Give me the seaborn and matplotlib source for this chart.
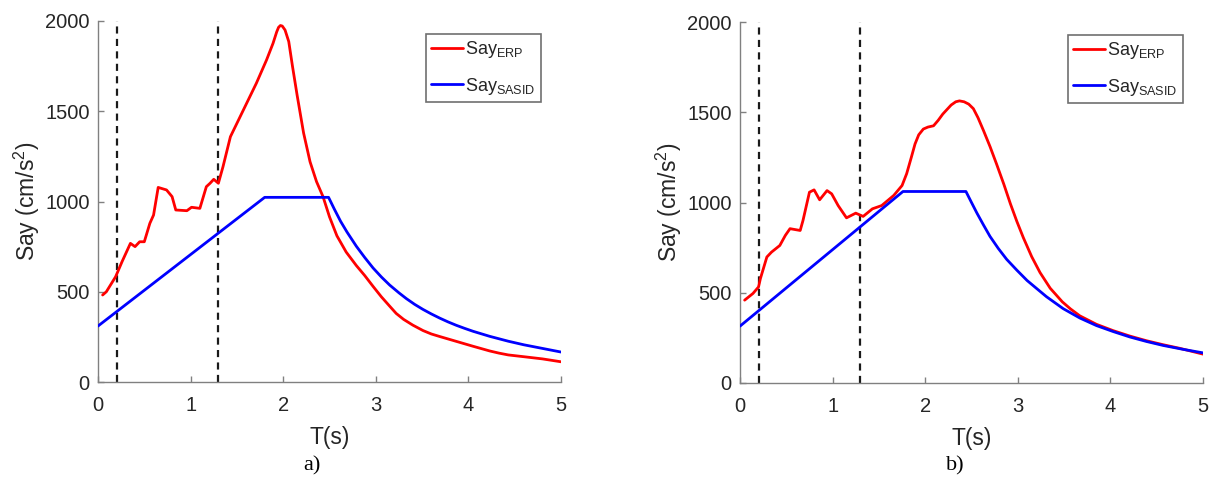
import matplotlib
matplotlib.use("Agg")
import matplotlib.pyplot as plt
import pandas as pd
import seaborn as sns

# ---- panel a) ----
t_erp_a = [0.05, 0.09, 0.19, 0.26, 0.35, 0.40, 0.45, 0.50, 0.56, 0.60, 0.65, 0.74,
           0.80, 0.84, 0.96, 1.01, 1.10, 1.17, 1.21, 1.25, 1.30, 1.35, 1.43, 1.50,
           1.57, 1.64, 1.71, 1.82, 1.89, 1.93, 1.95, 1.97, 1.99, 2.02, 2.06, 2.10,
           2.15, 2.22, 2.29, 2.36, 2.43, 2.50, 2.58, 2.68, 2.79, 2.88, 2.97, 3.06,
           3.15, 3.22, 3.30, 3.40, 3.51, 3.60, 3.69, 3.87, 4.05, 4.23, 4.33, 4.43,
           4.60, 4.80, 5.00]
say_erp_a = [482, 500, 583, 667, 768, 750, 777, 777, 879, 925, 1078, 1064,
             1027, 953, 949, 968, 962, 1082, 1101, 1123, 1101, 1193, 1359, 1433,
             1507, 1581, 1655, 1784, 1876, 1940, 1965, 1975, 1972, 1950, 1886, 1750,
             1590, 1380, 1220, 1110, 1027, 915, 810, 720, 645, 590, 530, 472,
             420, 380, 347, 315, 285, 266, 252, 225, 198, 172, 160, 150,
             140, 128, 112]
t_sasid_a = [0.0, 1.80, 2.49, 2.55, 2.62, 2.69, 2.79, 2.88, 2.97, 3.06, 3.15,
             3.25, 3.33, 3.42, 3.51, 3.60, 3.69, 3.78, 3.87, 3.96, 4.05, 4.23,
             4.43, 4.60, 4.80, 5.00]
say_sasid_a = [310, 1023, 1023, 960, 890, 830, 752, 690, 632, 582, 537,
               494, 462, 430, 402, 377, 354, 333, 314, 297, 281, 253,
               226, 206, 186, 166]

# ---- panel b) ----
t_erp_b = [0.05, 0.14, 0.20, 0.22, 0.29, 0.34, 0.43, 0.49, 0.54, 0.65, 0.68, 0.75,
           0.80, 0.86, 0.94, 0.99, 1.06, 1.15, 1.25, 1.33, 1.43, 1.53, 1.66, 1.75,
           1.80, 1.85, 1.89, 1.93, 1.98, 2.03, 2.09, 2.14, 2.19, 2.28, 2.33, 2.37,
           2.42, 2.47, 2.52, 2.57, 2.63, 2.70, 2.77, 2.85, 2.92, 2.99, 3.06, 3.15,
           3.24, 3.35, 3.48, 3.57, 3.67, 3.85, 4.03, 4.21, 4.39, 4.57, 4.75, 5.00]
say_erp_b = [459, 496, 532, 578, 698, 725, 762, 818, 855, 845, 900, 1057,
             1070, 1015, 1066, 1048, 983, 915, 941, 923, 965, 983, 1039, 1094,
             1160, 1250, 1324, 1375, 1407, 1418, 1425, 1455, 1490, 1540, 1558, 1563,
             1558, 1545, 1520, 1470, 1398, 1310, 1214, 1100, 993, 895, 805, 700,
             612, 525, 450, 410, 372, 325, 290, 260, 234, 212, 192, 160]
t_sasid_b = [0.0, 1.76, 2.44, 2.50, 2.56, 2.63, 2.70, 2.79, 2.88, 2.99, 3.10,
             3.20, 3.31, 3.40, 3.49, 3.67, 3.85, 4.03, 4.21, 4.39, 4.57, 4.78, 5.00]
say_sasid_b = [315, 1061, 1061, 1000, 940, 875, 812, 745, 685, 625, 568,
               525, 478, 445, 412, 360, 318, 285, 255, 230, 208, 187, 167]

period_marks = [0.2, 1.3]
x_ticks = [0, 1, 2, 3, 4, 5]
y_ticks = [0, 500, 1000, 1500, 2000]
series_names = [r"Say$_{\mathrm{ERP}}$", r"Say$_{\mathrm{SASID}}$"]
series_colors = ["#ff0000", "#0000ff"]
panel_tags = ["a)", "b)"]
x_label = "T(s)"
y_label = r"Say (cm/s$^{2}$)"

sns.set_theme(style="white")
plt.rcParams["font.family"] = ["Liberation Sans", "DejaVu Sans"]
plt.rcParams.update({
    "mathtext.fontset": "custom",
    "mathtext.rm": "Liberation Sans",
    "mathtext.it": "Liberation Sans:italic",
    "mathtext.bf": "Liberation Sans:bold",
})

W, H = 1211, 479
fig = plt.figure(figsize=(W / 100, H / 100), dpi=100)
boxes = [(98, 21, 561, 382), (740, 22, 1203, 383)]
tag_pos = [(312, 466), (955, 466)]

panels = [
    (t_erp_a, say_erp_a, t_sasid_a, say_sasid_a),
    (t_erp_b, say_erp_b, t_sasid_b, say_sasid_b),
]

for i, (te, se, ts, ss) in enumerate(panels):
    x0, y0, x1, y1 = boxes[i]
    ax = fig.add_axes([x0 / W, 1 - y1 / H, (x1 - x0) / W, (y1 - y0) / H])
    df = pd.concat([
        pd.DataFrame({"T": te, "Say": se, "series": series_names[0]}),
        pd.DataFrame({"T": ts, "Say": ss, "series": series_names[1]}),
    ], ignore_index=True)
    for t in period_marks:
        ax.axvline(t, color="#1a1a1a", lw=1.6, ls=(0, (3.2, 2.4)), zorder=1)
    sns.lineplot(data=df, x="T", y="Say", hue="series", hue_order=series_names,
                 palette=dict(zip(series_names, series_colors)), estimator=None,
                 linewidth=2.0, ax=ax, zorder=3)
    for line in ax.get_lines():
        line.set_solid_joinstyle("round")
    ax.set_xlim(0, 5)
    ax.set_ylim(0, 2000)
    ax.set_xticks(x_ticks)
    ax.set_yticks(y_ticks)
    for side in ["top", "right"]:
        ax.spines[side].set_visible(False)
    for side in ["left", "bottom"]:
        ax.spines[side].set_color("#808080")
        ax.spines[side].set_linewidth(1.0)
    ax.tick_params(direction="in", length=4, width=1, color="#808080",
                   labelcolor="#262626", labelsize=14.5, pad=6,
                   bottom=True, left=True)
    ax.tick_params(axis="x", pad=10)
    ax.set_xlabel(x_label, fontsize=16.5, color="#262626", labelpad=8)
    ax.set_ylabel(y_label, fontsize=16.5, color="#262626", labelpad=2)
    leg = ax.legend(loc="upper right", bbox_to_anchor=(1 - 20 / 463, 1 - 13 / 361),
                    borderaxespad=0, frameon=True, fancybox=False, framealpha=1,
                    edgecolor="#707070", fontsize=13, handlelength=1.75,
                    handletextpad=0.12, borderpad=0.3, labelspacing=0.85)
    leg.get_frame().set_linewidth(1.2)
    for line in leg.get_lines():
        line.set_linewidth(2.0)
    fig.text(tag_pos[i][0] / W, 1 - tag_pos[i][1] / H, panel_tags[i],
             family="Liberation Serif", fontsize=16, color="black",
             ha="center", va="center")

fig.savefig("out.png", dpi=100, facecolor="white")
